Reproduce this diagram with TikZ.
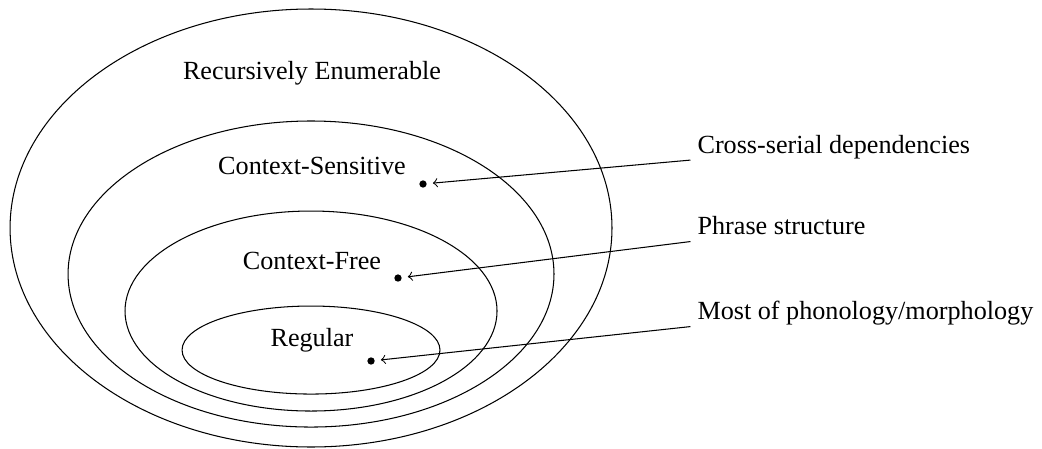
\documentclass[tikz,border=0pt]{standalone}
\usepackage{fontspec}
\setmainfont{Liberation Serif}
\usetikzlibrary{shapes.geometric}

\begin{document}
\begin{tikzpicture}
			\tikzset{class label/.style={anchor=base}}
			\tikzset{example text/.style={anchor=base west,inner sep=2.5pt,text depth=0pt}}
			\tikzset{example dot/.style={circle,fill,inner sep=0pt,minimum size=2.8pt}}
			\useasboundingbox (0,0) rectangle (13.994,-6.030);
			% nested language classes
			\draw (4.177,-3.062) ellipse [x radius=4.042,y radius=2.941];
			\draw (4.177,-3.680) ellipse [x radius=3.263,y radius=2.055];
			\draw (4.177,-4.177) ellipse [x radius=2.498,y radius=1.343];
			\draw (4.177,-4.701) ellipse [x radius=1.732,y radius=0.591];
			\node[class label] (re) at (4.19,-1.074) {Recursively Enumerable};
			\node[class label] (cs) at (4.19,-2.350) {Context-Sensitive};
			\node[class label] (cf) at (4.19,-3.613) {Context-Free};
			\node[class label] (reg) at (4.19,-4.660) {Regular};
			% examples
			\node[example dot] (csdot) at (5.681,-2.471) {};
			\node[example dot] (cfdot) at (5.345,-3.734) {};
			\node[example dot] (regdot) at (4.983,-4.848) {};
			\node[example text] (cross) at (9.273,-2.055) {Cross-serial dependencies};
			\node[example text] (phrase) at (9.273,-3.149) {Phrase structure};
			\node[example text] (phono) at (9.273,-4.291) {Most of phonology/morphology};
			\draw[->,shorten >=2.2pt] (cross.south west) -- (csdot);
			\draw[->,shorten >=2.2pt] (phrase.south west) -- (cfdot);
			\draw[->,shorten >=2.2pt] (phono.south west) -- (regdot);
		\end{tikzpicture}
\end{document}
